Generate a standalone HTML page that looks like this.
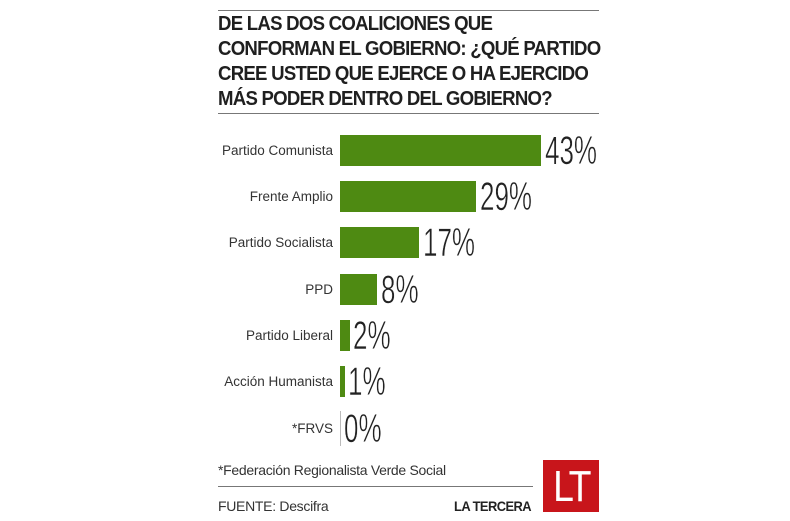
<!DOCTYPE html>
<html><head><meta charset="utf-8"><style>
body{margin:0;background:#fff;width:790px;height:521px;position:relative;overflow:hidden;font-family:"Liberation Sans",sans-serif;color:#222}
.a{position:absolute}
.t{left:218px;font-weight:bold;font-size:20px;letter-spacing:-0.8px;color:#1f1f1f;white-space:nowrap;line-height:24px;transform:scaleX(0.93);transform-origin:left}
.lab{right:457px;font-size:13.5px;color:#333;white-space:nowrap;text-align:right}
.bar{left:340px;height:31px;background:#4e8a12}
.p{font-size:40px;font-weight:300;color:#222;transform:scaleX(0.65);transform-origin:left;white-space:nowrap;line-height:31px;-webkit-text-stroke:0.6px #fff}
.rule{height:1px;background:#777}
</style></head><body>
<div class="a rule" style="left:218px;top:10px;width:381px"></div>
<div class="a t" style="top:12px">DE LAS DOS COALICIONES QUE</div>
<div class="a t" style="top:37px">CONFORMAN EL GOBIERNO: ¿QUÉ PARTIDO</div>
<div class="a t" style="top:62px">CREE USTED QUE EJERCE O HA EJERCIDO</div>
<div class="a t" style="top:87px">MÁS PODER DENTRO DEL GOBIERNO?</div>
<div class="a rule" style="left:218px;top:113px;width:381px"></div>

<div class="a lab" style="top:143px">Partido Comunista</div>
<div class="a bar" style="top:135px;width:201px"></div>
<div class="a p" style="left:545px;top:136px">43%</div>

<div class="a lab" style="top:189px">Frente Amplio</div>
<div class="a bar" style="top:181px;width:136px"></div>
<div class="a p" style="left:480px;top:182px">29%</div>

<div class="a lab" style="top:235px">Partido Socialista</div>
<div class="a bar" style="top:227px;width:79px"></div>
<div class="a p" style="left:423px;top:228px">17%</div>

<div class="a lab" style="top:282px">PPD</div>
<div class="a bar" style="top:274px;width:37px"></div>
<div class="a p" style="left:381px;top:275px">8%</div>

<div class="a lab" style="top:328px">Partido Liberal</div>
<div class="a bar" style="top:320px;width:10px"></div>
<div class="a p" style="left:353px;top:321px">2%</div>

<div class="a lab" style="top:374px">Acción Humanista</div>
<div class="a bar" style="top:366px;width:5px"></div>
<div class="a p" style="left:348px;top:367px">1%</div>

<div class="a lab" style="top:421px">*FRVS</div>
<div class="a" style="left:340px;top:411px;width:1px;height:35px;background:#bbb"></div>
<div class="a p" style="left:344px;top:414px">0%</div>

<div class="a" style="left:218px;top:462px;font-size:14px;color:#333;letter-spacing:-0.3px">*Federación Regionalista Verde Social</div>
<div class="a rule" style="left:218px;top:486px;width:315px"></div>
<div class="a" style="left:218px;top:498px;font-size:14px;color:#333;letter-spacing:-0.3px">FUENTE: Descifra</div>
<div class="a" style="left:454px;top:498px;font-size:14px;font-weight:bold;color:#222;letter-spacing:-0.6px;transform:scaleX(0.92);transform-origin:left">LA TERCERA</div>
<div class="a" style="left:543px;top:460px;width:56px;height:52px;background:#c8151b;color:#fff;font-size:44px;line-height:54px;text-align:center;letter-spacing:-3px"><span style="display:inline-block;transform:scaleX(0.85)">LT</span></div>
</body></html>
